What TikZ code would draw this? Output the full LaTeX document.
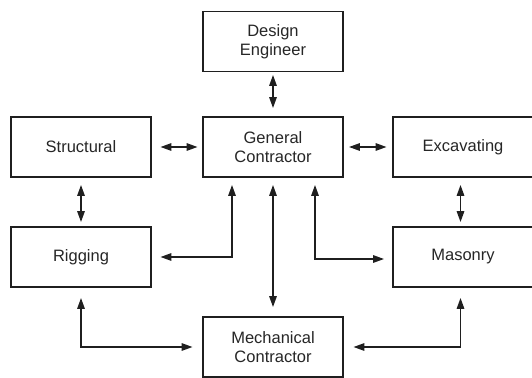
\documentclass[tikz,border=0pt]{standalone}
\usepackage{fontspec}
\setmainfont{Liberation Sans}
\usetikzlibrary{arrows.meta}
\begin{document}
\begin{tikzpicture}[x=1pt,y=-1pt,
  box/.style={draw=black!88, line width=1.9pt, minimum width=140pt, minimum height=60pt, inner sep=0pt, align=center, font=\fontsize{16.5}{18.5}\selectfont, text=black!85},
  arr/.style={draw=black!88, line width=1.6pt, {Triangle[length=11pt,width=7.5pt]}-{Triangle[length=11pt,width=7.5pt]}}]
\useasboundingbox (0,0) rectangle (532,377);
\clip (0,0) rectangle (532,377);
\node[box] (de) at (273,41.5) {Design\\Engineer};
\node[box] (gc) at (273,147) {General\\Contractor};
\node[box] (st) at (81,147) {Structural};
\node[box] (ex) at (463,147) {Excavating};
\node[box] (rig) at (81,257) {Rigging};
\node[box] (mas) at (463,257) {Masonry};
\node[box] (mec) at (273,347) {Mechanical\\Contractor};
\draw[arr, shorten <=2.5pt, shorten >=8pt] (de.south) -- (gc.north);
\draw[arr, shorten <=8.5pt, shorten >=4.5pt] (st.east) -- (gc.west);
\draw[arr, shorten <=5pt, shorten >=5.5pt] (gc.east) -- (ex.west);
\draw[arr, shorten <=7pt, shorten >=4pt] (st.south) -- (rig.north);
\draw[arr, shorten <=7pt, shorten >=4pt] ([xshift=-2.5pt]ex.south) -- ([xshift=-2.5pt]mas.north);
\draw[arr, shorten <=7pt, shorten >=9pt] (gc.south) -- (mec.north);
\draw[arr] ([xshift=-41pt,yshift=-7pt]gc.south) |- ([xshift=8.5pt]rig.east);
\draw[arr] ([xshift=42pt,yshift=-7pt]gc.south) |- ([xshift=-8pt,yshift=-2pt]mas.west);
\draw[arr] ([yshift=-10pt]rig.south) |- ([xshift=-9.5pt]mec.west);
\draw[arr] ([xshift=-2.5pt,yshift=-10pt]mas.south) |- ([xshift=9.5pt]mec.east);
\end{tikzpicture}
\end{document}
